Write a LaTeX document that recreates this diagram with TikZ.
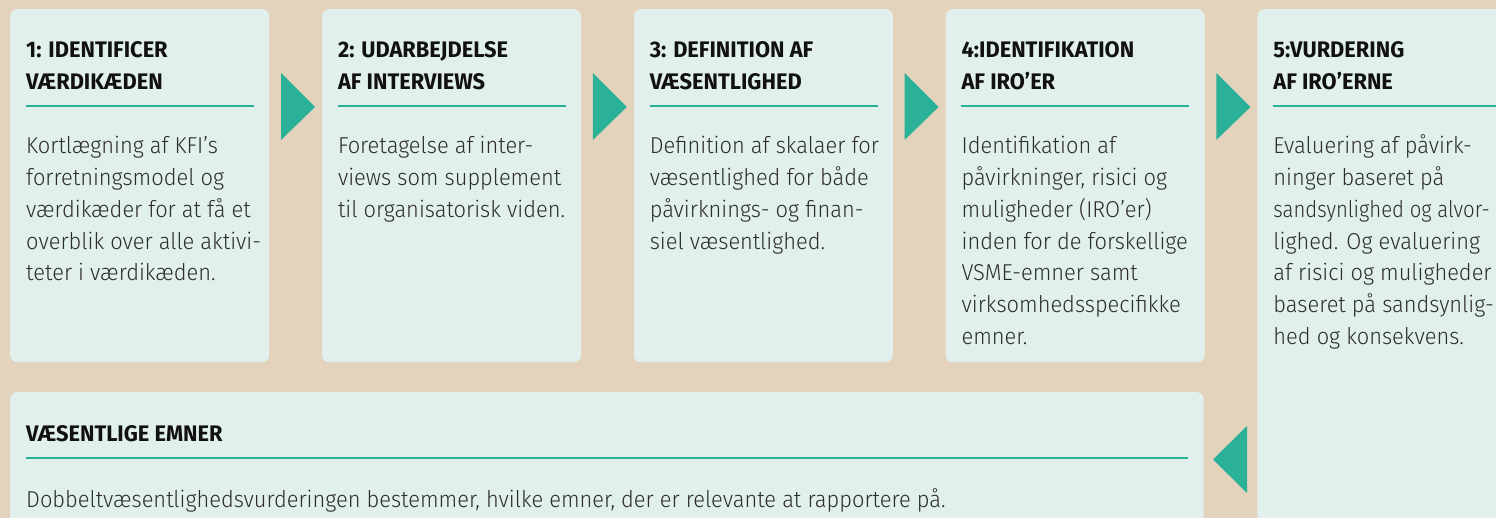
\documentclass[tikz,border=0pt]{standalone}
\usepackage{fontspec}
\setmainfont{Fira Sans Light}[FakeStretch=0.95]
\newfontfamily\headfont{Fira Sans Bold}[FakeStretch=0.97]
\newfontfamily\narrowbody{Fira Sans Light}[FakeStretch=0.885]
\definecolor{bgc}{RGB}{227,211,189}
\definecolor{boxc}{RGB}{225,240,236}
\definecolor{tealc}{RGB}{43,177,152}
\definecolor{headc}{RGB}{17,17,17}
\definecolor{bodyc}{RGB}{45,45,45}
\tikzset{
  card/.style={fill=boxc, rounded corners=7pt, draw=none, inner sep=0pt, anchor=north west},
  headtxt/.style={anchor=base west, inner sep=0pt, text=headc},
  bodytxt/.style={anchor=base west, inner sep=0pt, text=bodyc},
  rule/.style={draw=tealc, line width=1.4pt},
  arrowtri/.style={fill=tealc, draw=none},
}
\newcommand{\hd}[1]{\parbox[t]{300pt}{\headfont\fontsize{22.5}{32}\selectfont #1}}
\newcommand{\bd}[1]{\parbox[t]{300pt}{\raggedright\fontsize{23}{31.7}\selectfont #1}}
\begin{document}
\begin{tikzpicture}[x=1pt,y=-1pt]
\useasboundingbox (0,0) rectangle (1496,518);
\clip (0,0) rectangle (1496,518);
\fill[bgc] (0,0) rectangle (1496,518);
% cards
\node[card, minimum width=259pt, minimum height=353pt] (b1) at (10,9) {};
\node[card, minimum width=259pt, minimum height=353pt] (b2) at (321.8,9) {};
\node[card, minimum width=259pt, minimum height=353pt] (b3) at (633.6,9) {};
\node[card, minimum width=259pt, minimum height=353pt] (b4) at (945.4,9) {};
\node[card, minimum width=270pt, minimum height=530pt] (b5) at (1257.2,9) {};
\node[card, minimum width=1193.5pt, minimum height=150pt] (b6) at (10,392) {};
% headings
\node[headtxt] (h1) at (26,58) {\hd{1: IDENTIFICER\\VÆRDIKÆDEN}};
\node[headtxt] (h2) at (337.8,58) {\hd{2: UDARBEJDELSE\\AF INTERVIEWS}};
\node[headtxt] (h3) at (649.6,58) {\hd{3: DEFINITION AF\\VÆSENTLIGHED}};
\node[headtxt] (h4) at (961.4,58) {\hd{4:IDENTIFIKATION\\AF IRO’ER}};
\node[headtxt] (h5) at (1273.2,58) {\hd{5:VURDERING\\AF IRO’ERNE}};
\node[headtxt] (h6) at (26,441) {\hd{VÆSENTLIGE EMNER}};
% rules
\draw[rule] (26,106) -- (254,106);
\draw[rule] (337.8,106) -- (565.8,106);
\draw[rule] (649.6,106) -- (877.6,106);
\draw[rule] (961.4,106) -- (1189.4,106);
\draw[rule] (1273.2,106) -- (1500,106);
\draw[rule] (26,458) -- (1188,458);
% bodies
\node[bodytxt] (t1) at (26,154) {\bd{Kortlægning af KFI’s\\forretningsmodel og\\værdikæder for at få et\\overblik over alle aktivi-\\teter i værdikæden.}};
\node[bodytxt] (t2) at (337.8,154) {\bd{Foretagelse af inter-\\views som supplement\\til organisatorisk viden.}};
\node[bodytxt] (t3) at (649.6,154) {\bd{Definition af skalaer for\\væsentlighed for både\\påvirknings- og finan-\\siel væsentlighed.}};
\node[bodytxt] (t4) at (961.4,154) {\bd{Identifikation af\\påvirkninger, risici og\\muligheder (IRO’er)\\inden for de forskellige\\VSME-emner samt\\virksomhedsspecifikke\\emner.}};
\node[bodytxt] (t5) at (1273.2,154) {\bd{Evaluering af påvirk-\\ninger baseret på\\{\narrowbody sandsynlighed og alvor-}\\lighed. Og evaluering\\af risici og muligheder\\baseret på sandsynlig-\\hed og konsekvens.}};
\node[bodytxt] (t6) at (26,507) {\bd{\parbox[t]{1150pt}{Dobbeltvæsentlighedsvurderingen bestemmer, hvilke emner, der er relevante at rapportere på.}}};
% arrows
\fill[arrowtri] (281,73) -- (315,107) -- (281,140) -- cycle;
\fill[arrowtri] (592.8,73) -- (626.8,107) -- (592.8,140) -- cycle;
\fill[arrowtri] (904.6,73) -- (938.6,107) -- (904.6,140) -- cycle;
\fill[arrowtri] (1216.4,73) -- (1250.4,107) -- (1216.4,140) -- cycle;
\fill[arrowtri] (1247,426) -- (1213,459.5) -- (1247,493) -- cycle;
\end{tikzpicture}
\end{document}
